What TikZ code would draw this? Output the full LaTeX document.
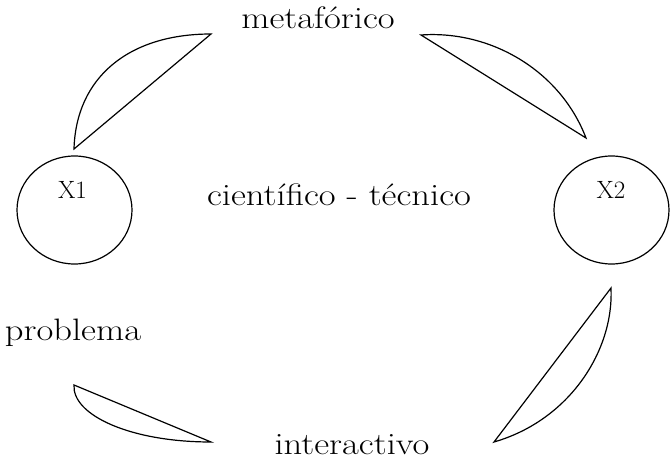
\documentclass[tikz,border=0pt]{standalone}
\usepackage{fontspec}
\usepackage{graphicx}
\setmainfont{Latin Modern Roman}
\usetikzlibrary{shapes.geometric}
\newcommand{\widelbl}[1]{\scalebox{1.18}[1]{#1}}
\tikzset{
  lbl/.style={inner sep=0pt,anchor=base,font=\fontsize{31}{34}\selectfont},
  small/.style={inner sep=0pt,anchor=base,font=\fontsize{25}{28}\selectfont},
  circ/.style={draw,line width=1.2pt,ellipse,minimum width=115pt,minimum height=108pt,inner sep=0pt},
  leaf/.style={draw,line width=1.2pt,line join=miter}
}
\begin{document}
\begin{tikzpicture}[x=1pt,y=-1pt]
\useasboundingbox (0,0) rectangle (670,462);
\node[circ] (c1) at (74.5,210) {};
\node[circ] (c2) at (611.5,210) {};
\node[small] (x1) at (72.5,199) {X1};
\node[small] (x2) at (611,199) {X2};
\node[lbl] (met) at (318,29) {\widelbl{metafórico}};
\node[lbl] (cie) at (339,206) {\widelbl{científico - técnico}};
\node[lbl] (pro) at (73,341) {\widelbl{problema}};
\node[lbl] (int) at (352,455) {\widelbl{interactivo}};
\coordinate (a1) at (74,149); \coordinate (a2) at (211,34);
\coordinate (b1) at (421,35); \coordinate (b2) at (586,138);
\coordinate (d1) at (611,288); \coordinate (d2) at (494,442);
\coordinate (e1) at (74,385); \coordinate (e2) at (211,442);
\draw[leaf] (a1) .. controls (76,78) and (128,34) .. (a2) -- cycle;
\draw[leaf] (b1) .. controls (490,30) and (560,70) .. (b2) -- cycle;
\draw[leaf] (d1) .. controls (614,350) and (570,420) .. (d2) -- cycle;
\draw[leaf] (e1) .. controls (72,415) and (130,442) .. (e2) -- cycle;
\end{tikzpicture}
\end{document}
